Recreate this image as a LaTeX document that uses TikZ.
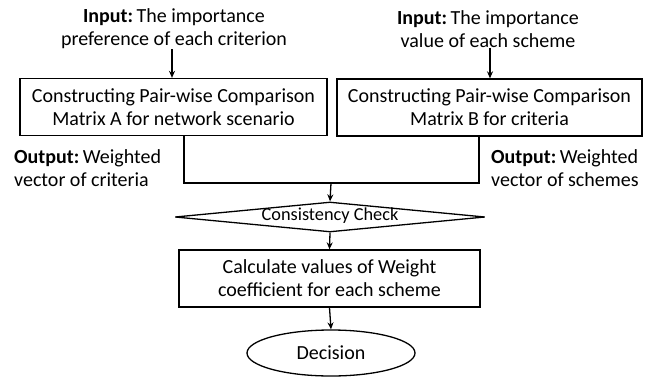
\documentclass[tikz,border=0pt]{standalone}
\usepackage{fontspec}
\setmainfont{Carlito}
\usetikzlibrary{shapes.geometric,arrows.meta}
\newcommand{\tightsp}{\hspace{-2.5pt}}
\begin{document}
\begin{tikzpicture}[x=1pt,y=-1pt,
  every node/.style={font=\fontsize{20}{23}\selectfont, align=center, inner sep=0pt},
  boxnode/.style={draw, line width=1.3pt, rectangle},
  inlbl/.style={align=center, font=\fontsize{20}{23}\selectfont},
  outlbl/.style={align=left, anchor=west, font=\fontsize{20}{23}\selectfont},
  conn/.style={line width=1.3pt},
  arr/.style={line width=1.3pt, -{Stealth[length=7pt,width=6pt]}}]
\useasboundingbox (0,0) rectangle (670,378);
% inputs
\node[inlbl] (inA) at (174,29) {\textbf{Input:} \tightsp The importance\\preference of each criterion};
\node[inlbl] (inB) at (488,29) {\textbf{Input:} \tightsp The importance\\value of each scheme};
% boxes
\node[boxnode, minimum width=307, minimum height=57] (A) at (173.5,107) {Constructing Pair-wise Comparison\\Matrix A for network scenario};
\node[boxnode, minimum width=305, minimum height=57] (B) at (489.5,107.5) {Constructing Pair-wise Comparison\\Matrix B for criteria};
% outputs
\node[outlbl] (outA) at (14,168) {\textbf{Output:} \tightsp Weighted\\vector of criteria};
\node[outlbl] (outB) at (491,168) {\textbf{Output:} \tightsp Weighted\\vector of schemes};
% diamond
\node[draw, line width=1.3pt, diamond, aspect=10.3, minimum width=310, minimum height=30, inner sep=0pt] (D) at (330,217) {};
\node[font=\fontsize{18.3}{20}\selectfont] (Dt) at (330,216) {Consistency Check};
% calc box
\node[boxnode, minimum width=301, minimum height=57] (C) at (329.5,278.5) {Calculate values of Weight\\coefficient for each scheme};
% ellipse
\node[draw, line width=1.3pt, ellipse, minimum width=168, minimum height=46] (E) at (331,353) {Decision};
% connectors
\coordinate (j) at (331,183);
\draw[arr] (inA.south -| 172,0) -- (A.north -| 172,0);
\draw[arr] (inB.south -| 490,0) -- (B.north -| 490,0);
\draw[conn] (A.south -| 184,0) |- (j);
\draw[conn] (B.south -| 479,0) |- (j);
\draw[arr] (j) -- (D.north);
\draw[arr] (D.south) -- (C.north);
\draw[arr] (C.south) -- (E.north);
\end{tikzpicture}
\end{document}
